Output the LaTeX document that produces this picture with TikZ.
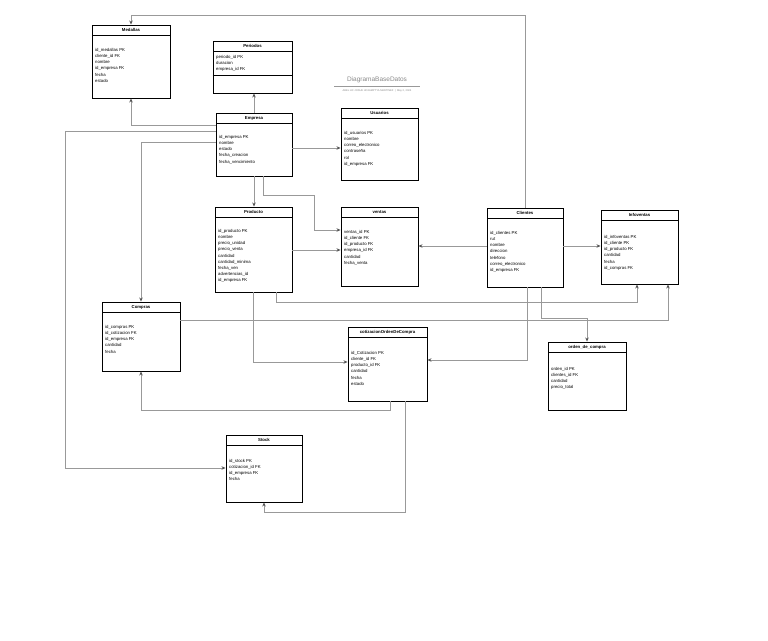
\documentclass[tikz,border=0pt]{standalone}
\usepackage{fontspec}
\setmainfont{Liberation Sans}
\usetikzlibrary{fit,arrows.meta}
\definecolor{lnc}{HTML}{999999}
\definecolor{arc}{HTML}{555555}
\definecolor{ttl}{HTML}{8A8A8A}
\tikzset{
 ebox/.style={draw=black, line width=0.9pt, inner sep=0pt},
 hdr/.style={font=\fontsize{4.3}{5}\selectfont\bfseries, inner sep=0pt},
 fld/.style={font=\fontsize{4.3}{6.2}\selectfont, align=left, inner sep=0pt, anchor=north west},
 conn/.style={draw=lnc, line width=0.7pt, -{Stealth[length=4pt,width=3.5pt,color=arc]}},
}
\newcommand{\entity}[8]{%
 \node[ebox, fit={(#2,#3) (#4,#5)}] (#1) {};
 \draw[line width=0.9pt] (#2,{#3+10}) -- (#4,{#3+10});
 \node[hdr] at ({(#2+#4)/2},{#3+5}) {#6};
 \node[fld] at ({#2+3},{#8}) {#7};
}
\begin{document}
\begin{tikzpicture}[x=1pt,y=-1pt]
\useasboundingbox[fill=white] (0,0) rectangle (768,640);

\node[font=\fontsize{6.5}{7}\selectfont, text=ttl, inner sep=0pt] (title) at (377,80) {DiagramaBaseDatos};
\draw[draw=lnc, line width=0.4pt] (334,86) -- (420,86);
\node[font=\fontsize{2.6}{3}\selectfont, text=ttl, inner sep=0pt] (subtitle) at (377,90.5) {ABEL HC JOSUE HOJAMPTYA MARTINEZ \ | \ May 2, 2024};

\entity{medallas}{92}{25}{170}{98}{Medallas}{id\_medallas PK\\cliente\_id FK\\nombre\\id\_empresa FK\\fecha\\estado}{48}
\entity{periodos}{213}{41}{292}{93}{Periodos}{periodo\_id PK\\duracion\\empresa\_id FK}{55}
\draw[line width=0.9pt] (periodos.west |- 0,75) -- (periodos.east |- 0,75);
\entity{empresa}{216}{113}{292}{176}{Empresa}{id\_empresa PK\\nombre\\estado\\fecha\_creacion\\fecha\_vencimiento}{135}
\entity{usuarios}{341}{108}{418}{180}{Usuarios}{id\_usuarios PK\\nombre\\correo\_electronico\\contrase\~na\\rol\\id\_empresa FK}{131}
\entity{producto}{215}{207}{292}{292}{Producto}{id\_producto PK\\nombre\\precio\_unidad\\ precio\_venta\\cantidad\\cantidad\_minima\\fecha\_ven\\advertencias\_id\\id\_empresa FK}{229}
\entity{ventas}{341}{207}{418}{286}{ventas}{ventas\_id PK\\id\_cliente FK\\id\_producto FK\\empresa\_id FK\\cantidad\\fecha\_venta}{230}
\entity{clientes}{487}{208}{563}{287}{Clientes}{id\_clientes PK\\rut\\nombre\\direccion\\telefono\\correo\_electronico\\id\_empresa FK}{231}
\entity{infoventas}{601}{210}{678}{284}{Infoventas}{id\_infoventas PK\\id\_cliente PK\\id\_producto FK\\cantidad\\fecha\\id\_compras FK}{235}
\entity{compras}{102}{302}{180}{371}{Compras}{id\_compras PK\\id\_cotizacion FK\\id\_empresa FK\\cantidad\\fecha}{325}
\entity{cotiz}{348}{327}{427}{401}{cotizacionOrdenDeCompra}{id\_Cotizacion PK\\cliente\_id FK\\producto\_id FK\\cantidad\\fecha\\estado}{351}
\entity{orden}{548}{342}{626}{410}{orden\_de\_compra}{orden\_id PK\\clientes\_id FK\\cantidad\\precio\_total}{367}
\entity{stock}{226}{435}{302}{502}{Stock}{id\_stock PK\\cotizacion\_id FK\\id\_empresa FK\\fecha}{459}

% connectors
\draw[conn] (empresa.north) -- (empresa.north |- periodos.south);
\draw[conn] (clientes.north) |- (131,15) -- (medallas.north);
\draw[conn] (empresa.west |- 0,125) -| (medallas.south);
\draw[conn] (empresa.west |- 0,131) -| (65,468) -- (stock.west |- 0,468);
\draw[conn] (empresa.west |- 0,142) -| (compras.north);
\draw[conn] (empresa.east |- 0,148) -- (usuarios.west |- 0,148);
\draw[conn] (empresa.south) -- (empresa.south |- producto.north);
\draw[conn] (empresa.south -| 263,0) |- (314,195) |- (ventas.west |- 0,230);
\draw[conn] (producto.east |- 0,250) -- (ventas.west |- 0,250);
\draw[conn] (clientes.west |- 0,246) -- (ventas.east |- 0,246);
\draw[conn] (clientes.east |- 0,246) -- (infoventas.west |- 0,246);
\draw[conn] (clientes.south -| 527,0) |- (cotiz.east |- 0,360);
\draw[conn] (clientes.south -| 541,0) |- (587,318) -- (orden.north);
\draw[conn] (producto.south -| 276,0) |- (637,302) -- (infoventas.south -| 637,0);
\draw[conn] (compras.east |- 0,320) -| (infoventas.south -| 668,0);
\draw[conn] (producto.south -| 253,0) |- (cotiz.west |- 0,362);
\draw[conn] (cotiz.south -| 390,0) |- (141,410) -- (compras.south);
\draw[conn] (cotiz.south -| 405,0) |- (264,512) -- (stock.south);
\end{tikzpicture}
\end{document}
